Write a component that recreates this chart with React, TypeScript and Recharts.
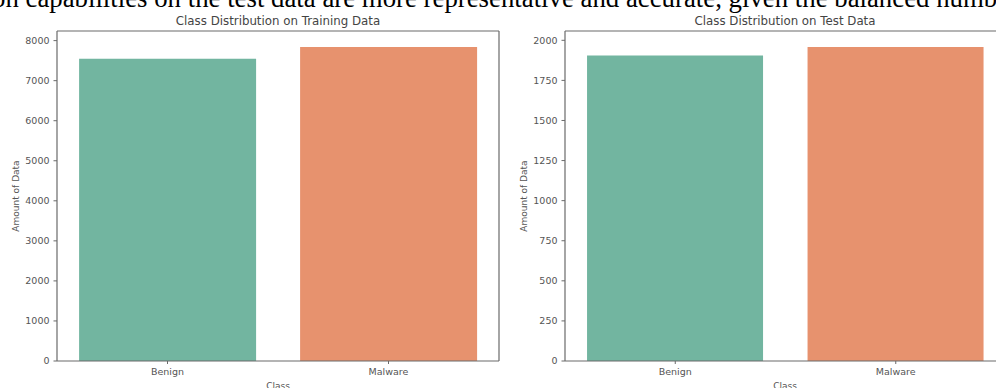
import React from 'react';
import { BarChart, Bar, XAxis, YAxis, Cell } from 'recharts';

const categories = ['Benign', 'Malware'];
const trainCounts = [7550, 7840];
const testCounts = [1905, 1958];
const trainTicks = [0, 1000, 2000, 3000, 4000, 5000, 6000, 7000, 8000];
const testTicks = [0, 250, 500, 750, 1000, 1250, 1500, 1750, 2000];
const barColors = ['#72b5a0', '#e7926e'];

const FONT = '"DejaVu Sans", sans-serif';
const AXIS = '#6a6a6a';
const TEXT = '#555555';

type PanelProps = {
  counts: number[];
  ticks: number[];
  yMax: number;
  left: number;
  width: number;
  yAxisWidth: number;
  rightMargin: number;
};

function Panel({ counts, ticks, yMax, left, width, yAxisWidth, rightMargin }: PanelProps) {
  const data = categories.map((c, i) => ({ name: c, value: counts[i] }));
  return (
    <div style={{ position: 'absolute', left, top: 0 }}>
      <BarChart
        width={width}
        height={388}
        data={data}
        margin={{ top: 30, right: rightMargin, bottom: 0, left: 0 }}
        barCategoryGap="10%"
      >
        <XAxis
          dataKey="name"
          height={27}
          tickSize={3}
          tickMargin={4}
          axisLine={{ stroke: AXIS, strokeWidth: 1.2 }}
          tickLine={{ stroke: AXIS }}
          tick={{ fill: TEXT, fontSize: 9.5, fontFamily: FONT }}
        />
        <XAxis
          xAxisId="top"
          dataKey="name"
          orientation="top"
          height={1}
          tick={false}
          tickLine={false}
          axisLine={{ stroke: AXIS, strokeWidth: 1.2 }}
        />
        <YAxis
          width={yAxisWidth}
          domain={[0, yMax]}
          ticks={ticks}
          interval={0}
          tickSize={3.5}
          tickMargin={4}
          axisLine={{ stroke: AXIS, strokeWidth: 1.2 }}
          tickLine={{ stroke: AXIS }}
          tick={{ fill: TEXT, fontSize: 9.5, fontFamily: FONT }}
        />
        <YAxis
          yAxisId="right"
          orientation="right"
          width={1}
          domain={[0, yMax]}
          tick={false}
          tickLine={false}
          axisLine={{ stroke: AXIS, strokeWidth: 1.2 }}
        />
        <Bar dataKey="value" isAnimationActive={false}>
          {data.map((d, i) => (
            <Cell key={d.name} fill={barColors[i]} />
          ))}
        </Bar>
      </BarChart>
    </div>
  );
}

export default function App() {
  return (
    <div
      style={{
        position: 'fixed',
        left: 0,
        top: 0,
        width: 996,
        height: 388,
        overflow: 'hidden',
        background: '#ffffff',
      }}
    >
      <Panel counts={trainCounts} ticks={trainTicks} yMax={8240} left={0} width={500} yAxisWidth={57} rightMargin={0} />
      <Panel counts={testCounts} ticks={testTicks} yMax={2058} left={500} width={510} yAxisWidth={65} rightMargin={3} />
      <svg
        width={996}
        height={388}
        style={{ position: 'absolute', left: 0, top: 0, pointerEvents: 'none' }}
      >
        <text x={-8} y={7} fontFamily='"Liberation Serif", serif' fontSize={26.8} fill="#000">
          on capabilities on the test data are more representative and accurate, given the balanced number
        </text>
        <text x={278} y={25} textAnchor="middle" fontFamily={FONT} fontSize={11.8} fill="#444">
          Class Distribution on Training Data
        </text>
        <text x={785} y={25} textAnchor="middle" fontFamily={FONT} fontSize={11.8} fill="#444">
          Class Distribution on Test Data
        </text>
        <text x={278} y={388.5} textAnchor="middle" fontFamily={FONT} fontSize={9} fill={TEXT}>
          Class
        </text>
        <text x={785} y={388.5} textAnchor="middle" fontFamily={FONT} fontSize={9} fill={TEXT}>
          Class
        </text>
        <text
          x={19}
          y={196}
          textAnchor="middle"
          transform="rotate(-90 19 196)"
          fontFamily={FONT}
          fontSize={9}
          fill={TEXT}
        >
          Amount of Data
        </text>
        <text
          x={527}
          y={196}
          textAnchor="middle"
          transform="rotate(-90 527 196)"
          fontFamily={FONT}
          fontSize={9}
          fill={TEXT}
        >
          Amount of Data
        </text>
      </svg>
    </div>
  );
}
